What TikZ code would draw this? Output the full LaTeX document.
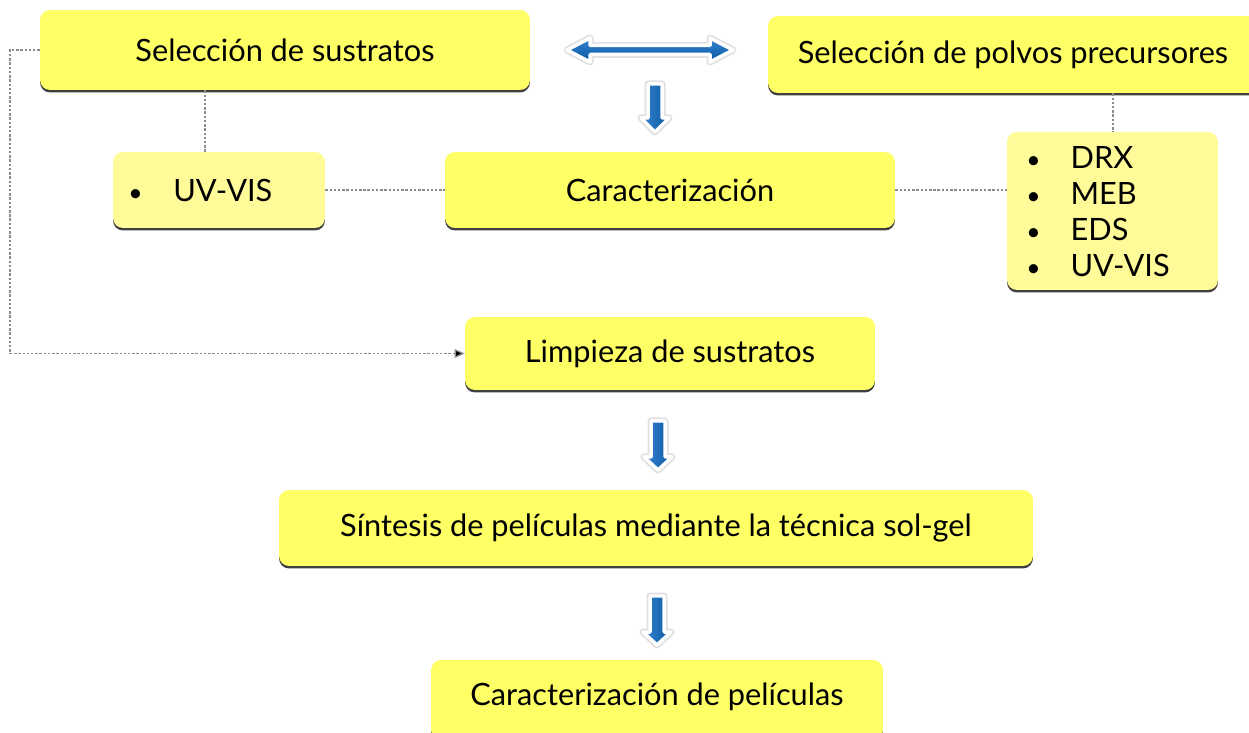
\documentclass[tikz,border=0pt]{standalone}
\usepackage{fontspec}
\setmainfont{Lato}
\usetikzlibrary{shadows,arrows.meta}
\definecolor{boxy}{HTML}{FFFF66}
\definecolor{listy}{HTML}{FFFB99}
\definecolor{blueA}{HTML}{3584D0}
\definecolor{blueB}{HTML}{0B57A2}
\tikzset{
  box/.style={draw=none, fill=boxy, rounded corners=0.2cm, inner sep=0pt,
    drop shadow={shadow xshift=0pt, shadow yshift=-0.05cm, fill=black!75, opacity=1},
    font=\fontsize{17.5}{20.5}\selectfont},
  listbox/.style={box, fill=listy},
  txt/.style={inner sep=0pt, font=\fontsize{17.5}{20.5}\selectfont},
  conn/.style={draw=black!45, line width=0.7pt, dash pattern=on 1.4pt off 1pt},
  glow/.style={draw=black!12, line width=0.14cm, line join=round},
  blk/.style={draw=white, line width=0.07cm, line join=round},
}
\newcommand\mydownarrow[4]{% x, top, head base, tip
  \path[glow] ({#1-7},#2) -- ({#1+7},#2) -- ({#1+7},#3) -- ({#1+14},#3) -- (#1,#4) -- ({#1-14},#3) -- ({#1-7},#3) -- cycle;
  \path[blk, left color=blueA, right color=blueB] ({#1-7},#2) -- ({#1+7},#2) -- ({#1+7},#3) -- ({#1+14},#3) -- (#1,#4) -- ({#1-14},#3) -- ({#1-7},#3) -- cycle;
}
\begin{document}
\begin{tikzpicture}[x=0.02cm,y=-0.02cm]
\useasboundingbox (0,0) rectangle (1249,733);

% boxes
\node[box, minimum width=9.8cm, minimum height=1.6cm] (sel) at (285,50) {Selección de sustratos};
\node[box, minimum width=9.8cm, minimum height=1.54cm] (pol) at (1013,54.5) {Selección de polvos precursores};
\node[listbox, minimum width=4.24cm, minimum height=1.52cm] (uv) at (219,190) {};
\node[txt, anchor=west] (uvt) at (128,190) {\makebox[0.9cm][l]{\fontsize{14}{16}\selectfont•}UV-VIS};
\node[box, minimum width=9.0cm, minimum height=1.52cm] (car) at (670,190) {Caracterización};
\node[listbox, minimum width=4.22cm, minimum height=3.16cm] (list) at (1112.5,211) {};
\node[txt, anchor=west, align=left] (listt) at (1026,215) {%
  \begin{tabular}{@{}l@{\hspace{0.6cm}}l@{}}
  {\fontsize{14}{16}\selectfont•} & DRX\\
  {\fontsize{14}{16}\selectfont•} & MEB\\
  {\fontsize{14}{16}\selectfont•} & EDS\\
  {\fontsize{14}{16}\selectfont•} & UV-VIS
  \end{tabular}};
\node[box, minimum width=8.2cm, minimum height=1.46cm] (lim) at (670,353.5) {Limpieza de sustratos};
\node[box, minimum width=15.08cm, minimum height=1.52cm] (sin) at (656,528) {Síntesis de películas mediante la técnica sol-gel};
\node[box, minimum width=9.04cm, minimum height=1.6cm] (cpel) at (657,700) {};
\node[txt] (cpelt) at (657,697) {Caracterización de películas};

% dotted connectors
\coordinate (ux) at (205,0);
\coordinate (px) at (1113,0);
\coordinate (lx) at (10,0);
\draw[conn] (sel.south -| ux) -- (uv.north -| ux);
\draw[conn] (uv.east) -- (car.west);
\draw[conn] (car.east) -- (car.east -| list.west);
\draw[conn] (pol.south -| px) -- (list.north -| px);
\draw[conn, -{Triangle[length=0.2cm, width=0.17cm, fill=black]}] (sel.west) -- (sel.west -| lx) -- (lim.west -| lx) -- (lim.west);

% block arrows
\path[glow] (567,50) -- (590,38) -- (590,45.5) -- (710,45.5) -- (710,38) -- (733,50) -- (710,62) -- (710,54.5) -- (590,54.5) -- (590,62) -- cycle;
\path[blk, top color=blueA, bottom color=blueB] (567,50) -- (590,38) -- (590,45.5) -- (710,45.5) -- (710,38) -- (733,50) -- (710,62) -- (710,54.5) -- (590,54.5) -- (590,62) -- cycle;
\mydownarrow{655}{84}{118}{132}
\mydownarrow{658}{421}{457}{470}
\mydownarrow{657}{596}{632}{645}
\end{tikzpicture}
\end{document}
